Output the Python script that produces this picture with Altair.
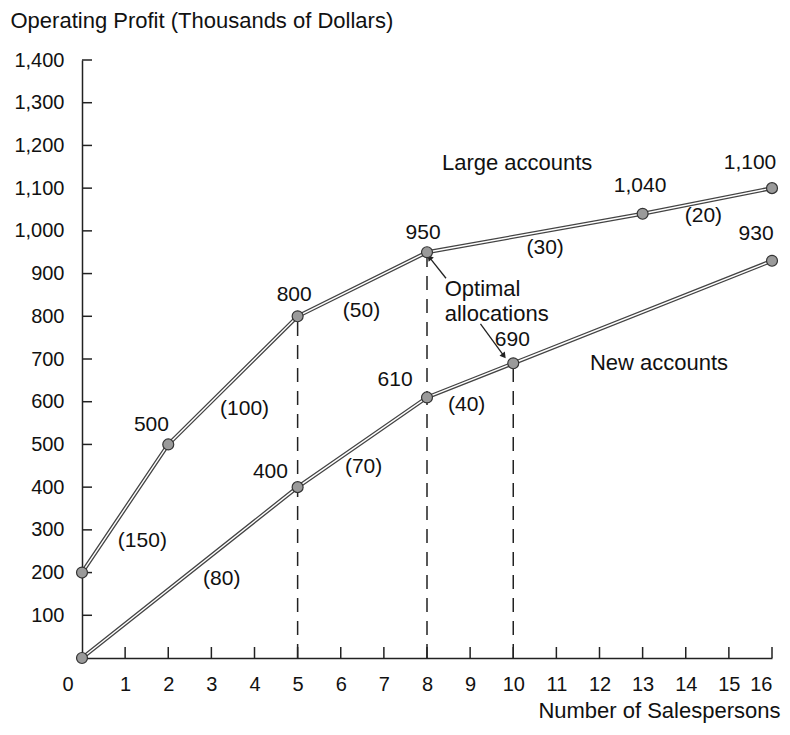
import altair as alt
import pandas as pd

# --- data ---
large_x = [0, 2, 5, 8, 13, 16]
large_y = [200, 500, 800, 950, 1040, 1100]
new_x = [0, 5, 8, 10, 16]
new_y = [0, 400, 610, 690, 930]

optimal_x = [5, 8, 10]
optimal_top = [800, 950, 690]

value_text = ["500", "800", "950", "1,040", "1,100", "930", "690", "610", "400"]
value_x = [1.61, 4.92, 7.91, 12.94, 15.49, 15.63, 9.98, 7.26, 4.37]
value_y = [546, 849, 996, 1104, 1160, 992, 744, 651, 436]

incr_text = ["(150)", "(80)", "(100)", "(70)", "(50)", "(40)", "(30)", "(20)"]
incr_x = [1.40, 3.24, 3.77, 6.53, 6.48, 8.92, 10.74, 14.41]
incr_y = [275, 184, 583, 446, 813, 593, 961, 1034]

note_text = ["Large accounts", "New accounts"]
note_x = [10.09, 13.38]
note_y = [1160, 691]

opt_text = ["Optimal", "allocations"]
opt_x = [8.41, 8.41]
opt_y = [863, 805]

arrow_x0 = [8.44, 9.24]
arrow_y0 = [889, 782]
arrow_x1 = [8.07, 9.77]
arrow_y1 = [936, 709]
arrow_angle = [321, 143]

x_ticks = list(range(0, 17))
y_ticks = list(range(100, 1401, 100))

FONT = "Liberation Sans"
W, H = 690, 598

lines = pd.DataFrame(
    {"x": large_x + new_x,
     "y": large_y + new_y,
     "s": ["Large"] * len(large_x) + ["New"] * len(new_x)}
)

xs = alt.Scale(domain=[0, 16], nice=False, zero=False)
ys = alt.Scale(domain=[0, 1400], nice=False, zero=False)

xaxis = alt.Axis(
    values=x_ticks, ticks=False, tickSize=0, grid=False,
    labelFontSize=20, labelFont=FONT, labelColor="#111", labelPadding=16,
    labelOffset={"condition": {"test": "datum.value === 0", "value": -20}, "value": 0},
    domainColor="#222", domainWidth=1.5,
    title="Number of Salespersons", titleFont=FONT, titleFontSize=22,
    titleFontWeight="normal", titleColor="#111", titleAlign="right",
    titleAnchor="end", titleX=W + 8, titleY=52, titleBaseline="middle",
)
yaxis = alt.Axis(
    values=y_ticks, format=",d", ticks=False, tickSize=0, grid=False,
    labelFontSize=20, labelFont=FONT, labelColor="#111", labelPadding=18,
    domainColor="#222", domainWidth=1.5,
    title="Operating Profit (Thousands of Dollars)", titleFont=FONT,
    titleFontSize=22, titleFontWeight="normal", titleColor="#111",
    titleAngle=0, titleAlign="left", titleBaseline="middle",
    titleX=-72, titleY=-40,
)

base_line = alt.Chart(lines).encode(
    x=alt.X("x:Q", scale=xs, axis=xaxis),
    y=alt.Y("y:Q", scale=ys, axis=yaxis),
    detail="s:N",
)
outer = base_line.mark_line(color="#444", strokeWidth=4)
inner = base_line.mark_line(color="white", strokeWidth=1.4)

pts = alt.Chart(lines).mark_circle(
    size=120, color="#9a9a9a", stroke="#333", strokeWidth=1.2, opacity=1
).encode(x=alt.X("x:Q", scale=xs), y=alt.Y("y:Q", scale=ys))

dashes = alt.Chart(pd.DataFrame({"x": optimal_x, "top": optimal_top})).transform_calculate(
    zero="0"
).mark_rule(color="#222", strokeWidth=1.5, strokeDash=[14, 9]).encode(
    x=alt.X("x:Q", scale=xs),
    y=alt.Y("zero:Q", scale=ys),
    y2="top:Q",
)

xt = alt.Chart(pd.DataFrame({"x": x_ticks[1:]})).mark_rule(
    color="#222", strokeWidth=1.5
).encode(x=alt.X("x:Q", scale=xs), y=alt.value(H), y2=alt.value(H - 11))

yt = alt.Chart(pd.DataFrame({"y": y_ticks})).mark_rule(
    color="#222", strokeWidth=1.5
).encode(y=alt.Y("y:Q", scale=ys), x=alt.value(0), x2=alt.value(10))


def text_layer(t, x, y, size, align="center"):
    return alt.Chart(pd.DataFrame({"t": t, "x": x, "y": y})).mark_text(
        font=FONT, fontSize=size, color="#111", align=align, baseline="middle"
    ).encode(x=alt.X("x:Q", scale=xs), y=alt.Y("y:Q", scale=ys), text="t:N")


vals = text_layer(value_text, value_x, value_y, 21)
incs = text_layer(incr_text, incr_x, incr_y, 21)
notes = text_layer(note_text, note_x, note_y, 22)
opts = text_layer(opt_text, opt_x, opt_y, 22, align="left")

arrows_df = pd.DataFrame({"x0": arrow_x0, "y0": arrow_y0, "x1": arrow_x1,
                          "y1": arrow_y1, "a": arrow_angle})
arrow_lines = alt.Chart(arrows_df).mark_rule(color="#222", strokeWidth=1.3).encode(
    x=alt.X("x0:Q", scale=xs), y=alt.Y("y0:Q", scale=ys), x2="x1:Q", y2="y1:Q"
)
arrow_heads = alt.Chart(arrows_df).mark_point(
    shape="triangle", filled=True, color="#222", size=45, opacity=1
).encode(x=alt.X("x1:Q", scale=xs), y=alt.Y("y1:Q", scale=ys),
         angle=alt.Angle("a:Q", scale=None))

chart = alt.layer(
    outer, inner, dashes, xt, yt, arrow_lines, arrow_heads, pts,
    vals, incs, notes, opts
).properties(
    width=W, height=H,
    padding={"left": 74, "top": 52, "right": 10, "bottom": 66},
    autosize=alt.AutoSizeParams(type="none"),
    background="white",
).configure_view(stroke=None)

chart.save("out.html", embed_options={"renderer": "svg", "actions": False})
